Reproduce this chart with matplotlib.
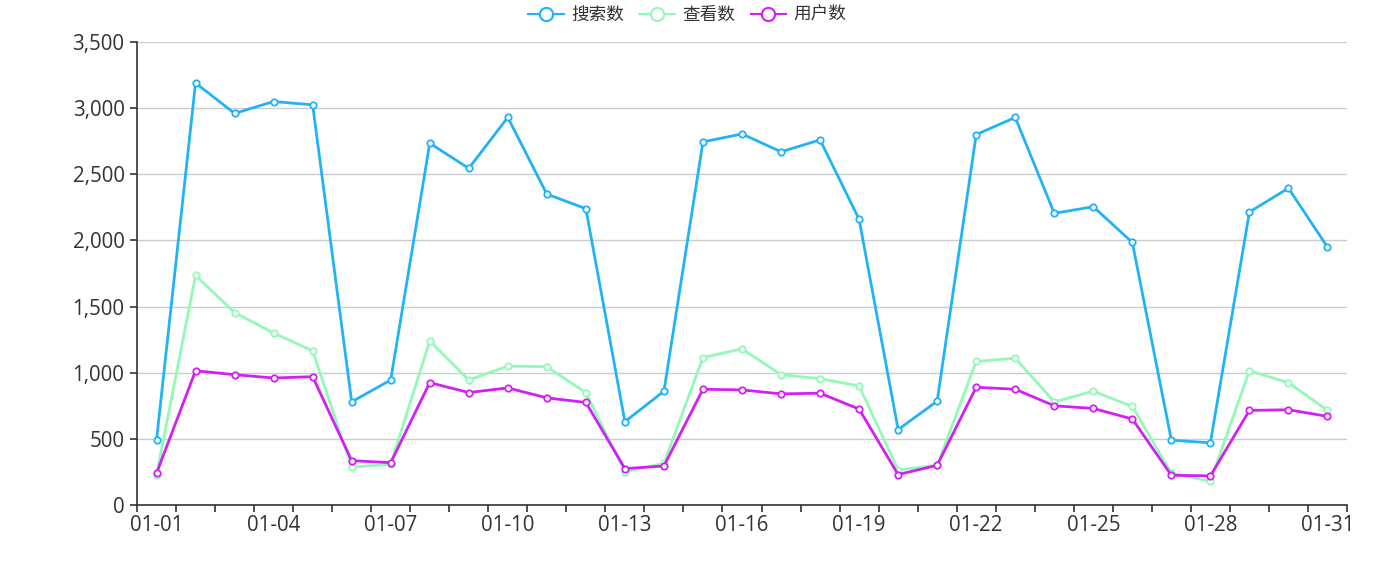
import matplotlib
matplotlib.use("Agg")
import matplotlib.pyplot as plt
from matplotlib.lines import Line2D
from matplotlib.ticker import FuncFormatter, MultipleLocator, FixedLocator

plt.rcParams['font.family'] = ['Open Sans', 'Noto Sans CJK SC', 'DejaVu Sans']

categories = [f"01-{d:02d}" for d in range(1, 32)]
series_names = ["搜索数", "查看数", "用户数"]
search = [490, 3190, 2960, 3050, 3025, 780, 945, 2735, 2545, 2930, 2350, 2240,
          630, 860, 2745, 2805, 2670, 2760, 2160, 570, 785, 2800, 2930, 2205,
          2255, 1985, 490, 470, 2215, 2395, 1950]
views = [225, 1735, 1455, 1300, 1165, 287, 308, 1240, 945, 1050, 1045, 850,
         250, 315, 1115, 1180, 985, 955, 900, 265, 300, 1085, 1110, 780,
         860, 745, 240, 180, 1015, 925, 715]
users = [240, 1015, 985, 960, 970, 335, 320, 925, 850, 885, 810, 775,
         275, 295, 875, 870, 840, 845, 725, 230, 300, 890, 875, 750,
         730, 650, 225, 220, 715, 720, 670]
colors = ['#22b2f8', '#93f9b6', '#d21ff4']

fig = plt.figure(figsize=(13.75, 5.61), dpi=100)
ax = fig.add_axes([137/1375, 1-505/561, 1210/1375, 463/561])

n = len(categories)
x = list(range(n))
for vals, c, name, z in zip([search, views, users], colors, series_names, [3, 4, 5]):
    ax.plot(x, vals, color=c, lw=2.0, marker='o', ms=4.6, mfc='white',
            mec=c, mew=1.3, zorder=z, label=name, clip_on=False)

ax.set_xlim(-0.5, n - 0.5)
ax.set_ylim(0, 3500)
ax.yaxis.set_major_locator(MultipleLocator(500))
ax.yaxis.set_major_formatter(FuncFormatter(lambda v, p: f"{int(v):,}"))
ax.grid(axis='y', color='#cccccc', lw=1, zorder=0)
ax.set_axisbelow(True)

# labels at category centers every 3rd, ticks at boundaries
ax.set_xticks(x[::3])
ax.set_xticklabels(categories[::3])
ax.xaxis.set_minor_locator(FixedLocator([i - 0.5 for i in range(n + 1)]))
ax.tick_params(axis='x', which='major', length=0, pad=7, labelsize=14.8, labelcolor='#333333')
ax.tick_params(axis='x', which='minor', length=5, width=1.2, color='#333333')
ax.tick_params(axis='y', length=5, width=1.2, color='#333333', pad=4, labelsize=14.8, labelcolor='#333333')

for s in ['top', 'right']:
    ax.spines[s].set_visible(False)
for s in ['left', 'bottom']:
    ax.spines[s].set_color('#333333')
    ax.spines[s].set_linewidth(1.2)

handles = [Line2D([0], [0], color=c, lw=1.5, marker='o', ms=9.5, mfc='white', mec=c, mew=1.5)
           for c in colors]
fig.legend(handles, series_names, loc='center', bbox_to_anchor=(0.5, 1 - 15/561),
           ncol=3, frameon=False, fontsize=12.7, handlelength=2.0, handletextpad=0.45,
           columnspacing=0.85, labelcolor='#333333')

fig.savefig('out.png', dpi=100)
